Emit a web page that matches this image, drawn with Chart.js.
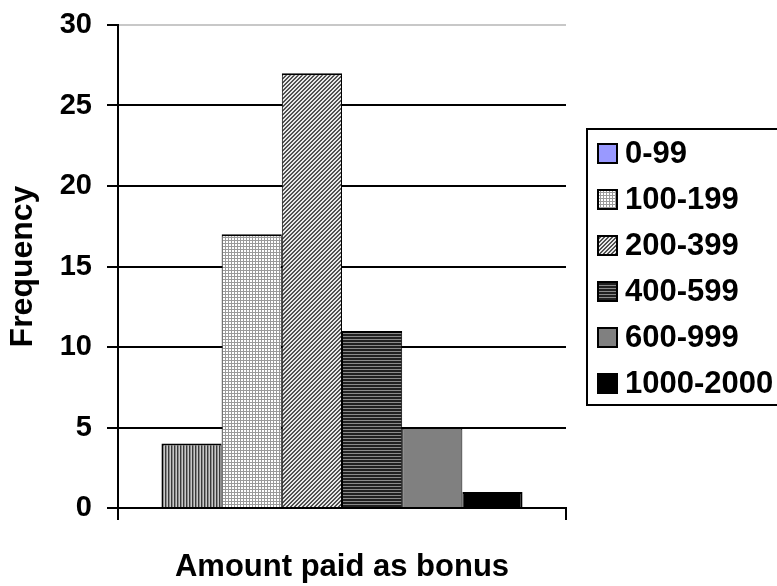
<!DOCTYPE html>
<html>
<head>
<meta charset="utf-8">
<script src="https://cdn.jsdelivr.net/npm/chart.js@4/dist/chart.umd.min.js"></script>
<style>
  html, body { margin: 0; padding: 0; background: #fff; }
  canvas { display: block; }
</style>
</head>
<body>
<canvas id="c" width="777" height="586"></canvas>
<script>
// Bonus distribution: one group of adjacent bars, one per pay range
const categories = [''];
const bonusRanges = ['0-99', '100-199', '200-399', '400-599', '600-999', '1000-2000'];
const frequencies = [4, 17, 27, 11, 5, 1];
const yTicks = [0, 5, 10, 15, 20, 25, 30];

const FONT = '"Liberation Sans", Arial, Helvetica, sans-serif';
Chart.defaults.font.family = FONT;
Chart.defaults.color = '#000';

const canvas = document.getElementById('c');
const ctx = canvas.getContext('2d');

// small tiles for the hatched fills
function tile(w, h, colorAt) {
  const c = document.createElement('canvas');
  c.width = w; c.height = h;
  const t = c.getContext('2d');
  for (let i = 0; i < w; i++) {
    for (let j = 0; j < h; j++) {
      t.fillStyle = colorAt(i, j);
      t.fillRect(i, j, 1, 1);
    }
  }
  return ctx.createPattern(c, 'repeat');
}

const fills = [
  tile(3, 1, (i) => ['#3a3a3a', '#8c8c8c', '#c8c8c8'][i]),          // vertical stripes
  tile(3, 3, (i, j) => (i === 0 || j === 0) ? '#9a9a9a' : '#ffffff'), // fine grid
  tile(4, 4, (i, j) => ((i + j) % 4 < 2) ? '#505050' : '#e8e8e8'),   // diagonal checker
  tile(1, 3, (i, j) => j === 0 ? '#8a8a8a' : '#202020'),             // horizontal stripes
  '#808080',
  '#000000'
];
const swatches = ['#9999ff', fills[1], fills[2], fills[3], fills[4], fills[5]];

const datasets = bonusRanges.map((label, i) => ({
  label,
  data: [frequencies[i]],
  backgroundColor: fills[i],
  swatch: swatches[i],
  borderColor: '#000',
  borderWidth: {
    top: 2,
    left: i === 0 ? 2 : 1,
    right: i === bonusRanges.length - 1 ? 2 : 1,
    bottom: 0
  }
}));

const whiteBg = {
  id: 'whiteBg',
  beforeDraw(chart) {
    const c = chart.ctx;
    c.save();
    c.fillStyle = '#fff';
    c.fillRect(0, 0, chart.width, chart.height);
    c.restore();
  }
};

// boxed legend on the right
const boxedLegend = {
  id: 'boxedLegend',
  afterDraw(chart) {
    const c = chart.ctx;
    c.save();
    c.lineWidth = 2;
    c.strokeStyle = '#000';
    c.strokeRect(587, 129, 210, 276);
    chart.data.datasets.forEach((ds, i) => {
      const y = 153 + i * 46;
      c.fillStyle = ds.swatch;
      c.fillRect(598, y - 9, 19, 19);
      c.lineWidth = 2;
      c.strokeStyle = '#000';
      c.strokeRect(598, y - 9, 19, 19);
      c.fillStyle = '#000';
      c.font = 'bold 31px ' + FONT;
      c.textAlign = 'left';
      c.textBaseline = 'middle';
      c.fillText(ds.label, 625, y + 1);
    });
    c.restore();
  }
};

new Chart(canvas, {
  type: 'bar',
  data: { labels: categories, datasets },
  plugins: [whiteBg, boxedLegend],
  options: {
    responsive: false,
    animation: false,
    devicePixelRatio: 1,
    layout: { padding: { left: 0, top: 25, right: 211, bottom: 0 } },
    plugins: { legend: { display: false }, tooltip: { enabled: false } },
    datasets: { bar: { categoryPercentage: 0.806, barPercentage: 1 } },
    scales: {
      x: {
        grid: { offset: true, drawOnChartArea: false, color: '#000', lineWidth: 2, tickLength: 12 },
        border: { color: '#000', width: 2 },
        ticks: { font: { size: 12 } },
        title: {
          display: true,
          text: 'Amount paid as bonus',
          color: '#000',
          font: { size: 31, weight: 'bold' },
          padding: { top: 0, bottom: 0 }
        },
        afterFit(s) { s.height = 78; s.paddingLeft = 0; s.paddingRight = 0; }
      },
      y: {
        min: yTicks[0],
        max: yTicks[yTicks.length - 1],
        ticks: {
          stepSize: yTicks[1] - yTicks[0],
          color: '#000',
          padding: 15,
          font: { size: 29, weight: 'bold' }
        },
        grid: {
          color: (c) => (c.tick && c.tick.value === yTicks[yTicks.length - 1]) ? '#c8c8c8' : '#000',
          tickColor: '#000',
          lineWidth: 2,
          tickLength: 11
        },
        border: { color: '#000', width: 2 },
        title: {
          display: true,
          text: 'Frequency',
          color: '#000',
          font: { size: 32, weight: 'bold' },
          padding: { top: 4, bottom: 0 }
        },
        afterFit(s) { s.width = 118; s.paddingTop = 0; s.paddingBottom = 0; }
      }
    }
  }
});
</script>
</body>
</html>
